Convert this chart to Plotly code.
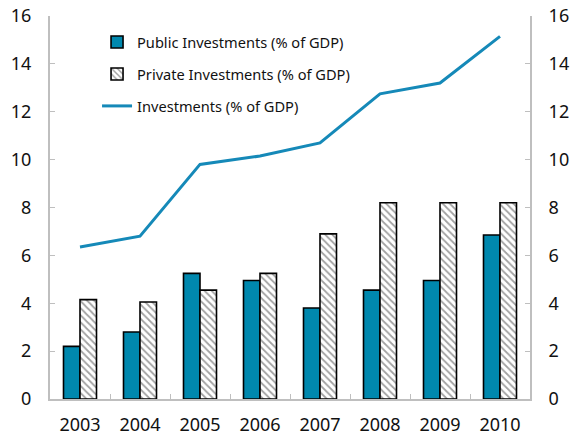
import plotly.graph_objects as go

years = ["2003", "2004", "2005", "2006", "2007", "2008", "2009", "2010"]
public_inv = [2.2, 2.8, 5.25, 4.95, 3.8, 4.55, 4.95, 6.85]
private_inv = [4.15, 4.05, 4.55, 5.25, 6.9, 8.2, 8.2, 8.2]
total_inv = [6.35, 6.8, 9.8, 10.15, 10.7, 12.75, 13.2, 15.15]
y_ticks = [0, 2, 4, 6, 8, 10, 12, 14, 16]

FONT = "Noto Sans"
AXIS_GREY = "#bfbfbf"
TEAL = "#0088ae"

fig = go.Figure()

fig.add_trace(go.Bar(
    x=years, y=public_inv, name="Public Investments (% of GDP)",
    marker=dict(color=TEAL, line=dict(color="black", width=1.6)),
    legendgroup="a",
))
fig.add_trace(go.Bar(
    x=years, y=private_inv, name="Private Investments (% of GDP)",
    marker=dict(
        color="white",
        line=dict(color="black", width=1.6),
        pattern=dict(shape="\\", fgcolor="#444444", bgcolor="white",
                     size=5, solidity=0.35),
    ),
    legendgroup="b",
))
fig.add_trace(go.Scatter(
    x=years, y=total_inv, name="Investments (% of GDP)",
    mode="lines", line=dict(color="#1589b8", width=3),
    legendgroup="c", yaxis="y2",
))

axis_common = dict(
    range=[0, 16], tickvals=y_ticks, ticks="inside", ticklen=5,
    tickcolor=AXIS_GREY, showline=True, linecolor=AXIS_GREY, linewidth=2,
    showgrid=False, zeroline=False, automargin=False,
    tickfont=dict(family=FONT, size=18, color="#111111"),
    ticklabelstandoff=13,
)

fig.update_layout(
    width=571, height=441,
    margin=dict(l=50, r=41, t=16, b=42),
    paper_bgcolor="white", plot_bgcolor="white",
    barmode="group", bargap=0.45, bargroupgap=0,
    font=dict(family=FONT, color="#111111"),
    xaxis=dict(
        type="category", ticks="inside", ticklen=5, tickcolor=AXIS_GREY,
        tickson="boundaries", showline=True, linecolor=AXIS_GREY,
        linewidth=2, showgrid=False, automargin=False,
        tickfont=dict(family=FONT, size=18, color="#111111"),
        ticklabelstandoff=8,
    ),
    yaxis=dict(side="left", **axis_common),
    yaxis2=dict(side="right", overlaying="y", **axis_common),
    legend=dict(
        x=0.098, y=0.974, xanchor="left", yanchor="top",
        bgcolor="rgba(0,0,0,0)", traceorder="grouped", tracegroupgap=10,
        font=dict(family=FONT, size=14.6, color="#111111"),
    ),
)

fig.write_html("out.html")
